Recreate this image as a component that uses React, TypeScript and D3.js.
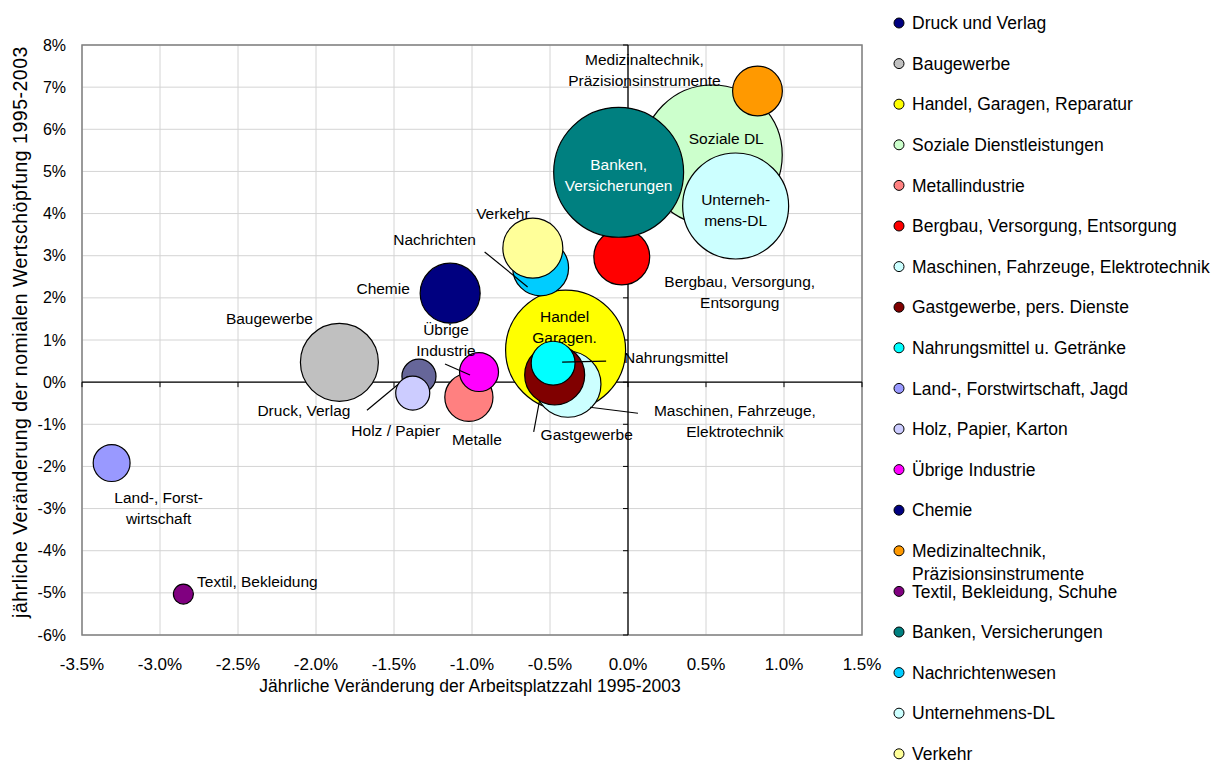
import React from "react";
import * as d3 from "d3";

const categories = [
  "Druck und Verlag",
  "Baugewerbe",
  "Handel, Garagen, Reparatur",
  "Soziale Dienstleistungen",
  "Metallindustrie",
  "Bergbau, Versorgung, Entsorgung",
  "Maschinen, Fahrzeuge, Elektrotechnik",
  "Gastgewerbe, pers. Dienste",
  "Nahrungsmittel u. Getränke",
  "Land-, Forstwirtschaft, Jagd",
  "Holz, Papier, Karton",
  "Übrige Industrie",
  "Chemie",
  "Medizinaltechnik,\nPräzisionsinstrumente",
  "Textil, Bekleidung, Schuhe",
  "Banken, Versicherungen",
  "Nachrichtenwesen",
  "Unternehmens-DL",
  "Verkehr",
];

// Jährliche Veränderung der Arbeitsplatzzahl (%)
const xValues = [-1.34, -1.85, -0.4, 0.54, -1.02, -0.04, -0.385, -0.47, -0.48, -3.31, -1.38, -0.955, -1.14, 0.83, -2.85, -0.06, -0.56, 0.69, -0.61];
// Jährliche Veränderung der nominalen Wertschöpfung (%)
const yValues = [0.14, 0.47, 0.76, 5.39, -0.36, 2.97, -0.05, 0.17, 0.45, -1.92, -0.26, 0.24, 2.11, 6.91, -5.03, 4.98, 2.71, 4.18, 3.18];
// Bubble size (relative)
const sizes = [29, 152, 360, 490, 58, 78, 109, 90, 48, 34, 29, 38, 90, 62, 10, 422, 78, 281, 90];

const bubbleColors = ["#666699", "#C0C0C0", "#FFFF00", "#CCFFCC", "#FF8080", "#FF0000", "#CCFFFF", "#800000", "#00FFFF", "#9999FF", "#CCCCFF", "#FF00FF", "#000080", "#FF9900", "#800080", "#008080", "#00CCFF", "#CCFFFF", "#FFFF99"];
const legendColors = ["#000080", "#C0C0C0", "#FFFF00", "#CCFFCC", "#FF8080", "#FF0000", "#CCFFFF", "#800000", "#00FFFF", "#9999FF", "#CCCCFF", "#FF00FF", "#000080", "#FF9900", "#800080", "#008080", "#00CCFF", "#CCFFFF", "#FFFF99"];

// Data labels: text lines, offset of label centre from bubble centre, optional leader line
const labelLines = [
  ["Druck, Verlag"],
  ["Baugewerbe"],
  ["Handel", "Garagen."],
  ["Soziale DL"],
  ["Metalle"],
  ["Bergbau, Versorgung,", "Entsorgung"],
  ["Maschinen, Fahrzeuge,", "Elektrotechnik"],
  ["Gastgewerbe"],
  ["Nahrungsmittel"],
  ["Land-, Forst-", "wirtschaft"],
  ["Holz / Papier"],
  ["Übrige", "Industrie"],
  ["Chemie"],
  ["Medizinaltechnik,", "Präzisionsinstrumente"],
  ["Textil, Bekleidung"],
  ["Banken,", "Versicherungen"],
  ["Nachrichten"],
  ["Unterneh-", "mens-DL"],
  ["Verkehr"],
];
const labelOffsets: [number, number][] = [
  [-115, 34], [-70, -44], [-1, -23], [14, -16], [8, 42], [118, 35], [167, 37], [32, 60], [123, -6], [47, 45],
  [-17, 37], [-33, -32], [-67, -5], [-113, -21], [74, -13], [0, 3], [-106, -28], [0, 4], [-30, -35],
];
const leaders: ([number, number, number, number] | null)[] = [
  [-52, 34, -11, 0], null, null, null, null, null, [22, 23, 70, 29], [-15, 25, -21, 57], [9, -1, 53, -2], null,
  null, [-34, -8, -9, 3], null, null, null, null, [-56, -16, -13, 19], null, null,
];
const whiteLabel = [false, false, false, false, false, false, false, false, false, false, false, false, false, false, false, true, false, false, false];

const xTicks = [-3.5, -3.0, -2.5, -2.0, -1.5, -1.0, -0.5, 0.0, 0.5, 1.0, 1.5];
const yTicks = [-6, -5, -4, -3, -2, -1, 0, 1, 2, 3, 4, 5, 6, 7, 8];

const FONT = "'Liberation Sans', Arial, sans-serif";

export default function App() {
  const left = 82, right = 862, top = 45, bottom = 635;
  const x = d3.scaleLinear().domain([-3.5, 1.5]).range([left, right]);
  const y = d3.scaleLinear().domain([-6, 8]).range([bottom, top]);
  const r = d3.scaleSqrt().domain([0, 490]).range([0, 70]);

  const legX = 899, legY0 = 23, legStep = 40.6;

  return (
    <svg width={1216} height={766} style={{ position: "absolute", left: 0, top: 0, background: "#fff" }} fontFamily={FONT}>
      <rect x={0} y={0} width={1216} height={766} fill="#fff" />
      {/* grid */}
      {xTicks.map((t) => (
        <line key={"gx" + t} x1={x(t)} x2={x(t)} y1={top} y2={bottom} stroke="#d4d4d4" strokeWidth={1} />
      ))}
      {yTicks.map((t) => (
        <line key={"gy" + t} x1={left} x2={right} y1={y(t)} y2={y(t)} stroke="#d4d4d4" strokeWidth={1} />
      ))}
      <rect x={left} y={top} width={right - left} height={bottom - top} fill="none" stroke="#808080" strokeWidth={1.5} />
      {/* crossing axes */}
      <line x1={left} x2={right} y1={y(0)} y2={y(0)} stroke="#000" strokeWidth={1.3} />
      <line x1={x(0)} x2={x(0)} y1={top} y2={bottom} stroke="#000" strokeWidth={1.3} />
      {xTicks.map((t) => (
        <line key={"tx" + t} x1={x(t)} x2={x(t)} y1={y(0)} y2={y(0) + 5} stroke="#000" strokeWidth={1} />
      ))}
      {yTicks.map((t) => (
        <line key={"ty" + t} x1={x(0) - 5} x2={x(0)} y1={y(t)} y2={y(t)} stroke="#000" strokeWidth={1} />
      ))}
      {/* tick labels */}
      {yTicks.map((t) => (
        <text key={"ly" + t} x={66} y={y(t)} dy="0.35em" textAnchor="end" fontSize={16} fill="#000">
          {t + "%"}
        </text>
      ))}
      {xTicks.map((t) => (
        <text key={"lx" + t} x={x(t)} y={664} dy="0.35em" textAnchor="middle" fontSize={17} fill="#000">
          {t.toFixed(1) + "%"}
        </text>
      ))}
      {/* axis titles */}
      <text x={470} y={686} dy="0.35em" textAnchor="middle" fontSize={17.5} fill="#000">
        Jährliche Veränderung der Arbeitsplatzzahl 1995-2003
      </text>
      <text transform={`translate(20,332) rotate(-90)`} dy="0.35em" textAnchor="middle" fontSize={19.5} letterSpacing={0.5} fill="#000">
        jährliche Veränderung der nomialen Wertschöpfung 1995-2003
      </text>
      {/* bubbles + labels in series order */}
      {categories.map((c, i) => {
        const cx = x(xValues[i]);
        const cy = y(yValues[i]);
        const [dx, dy] = labelOffsets[i];
        const lines = labelLines[i];
        const ld = leaders[i];
        return (
          <g key={"b" + i}>
            <circle cx={cx} cy={cy} r={r(sizes[i])} fill={bubbleColors[i]} stroke="#000" strokeWidth={1.2} />
            {ld && <line x1={cx + ld[0]} y1={cy + ld[1]} x2={cx + ld[2]} y2={cy + ld[3]} stroke="#000" strokeWidth={1.2} />}
            {lines.map((ln, j) => (
              <text
                key={j}
                x={cx + dx}
                y={cy + dy + (j - (lines.length - 1) / 2) * 20.5}
                dy="0.35em"
                textAnchor="middle"
                fontSize={15.5}
                fill={whiteLabel[i] ? "#fff" : "#000"}
              >
                {ln}
              </text>
            ))}
          </g>
        );
      })}
      {/* legend */}
      {categories.map((c, i) => {
        const ly = legY0 + i * legStep;
        const lines = c.split("\n");
        return (
          <g key={"lg" + i}>
            <circle cx={legX} cy={ly} r={5} fill={legendColors[i]} stroke="#000" strokeWidth={1} />
            {lines.map((ln, j) => (
              <text key={j} x={912} y={ly + j * 23} dy="0.35em" fontSize={17.5} fill="#000">
                {ln}
              </text>
            ))}
          </g>
        );
      })}
    </svg>
  );
}
